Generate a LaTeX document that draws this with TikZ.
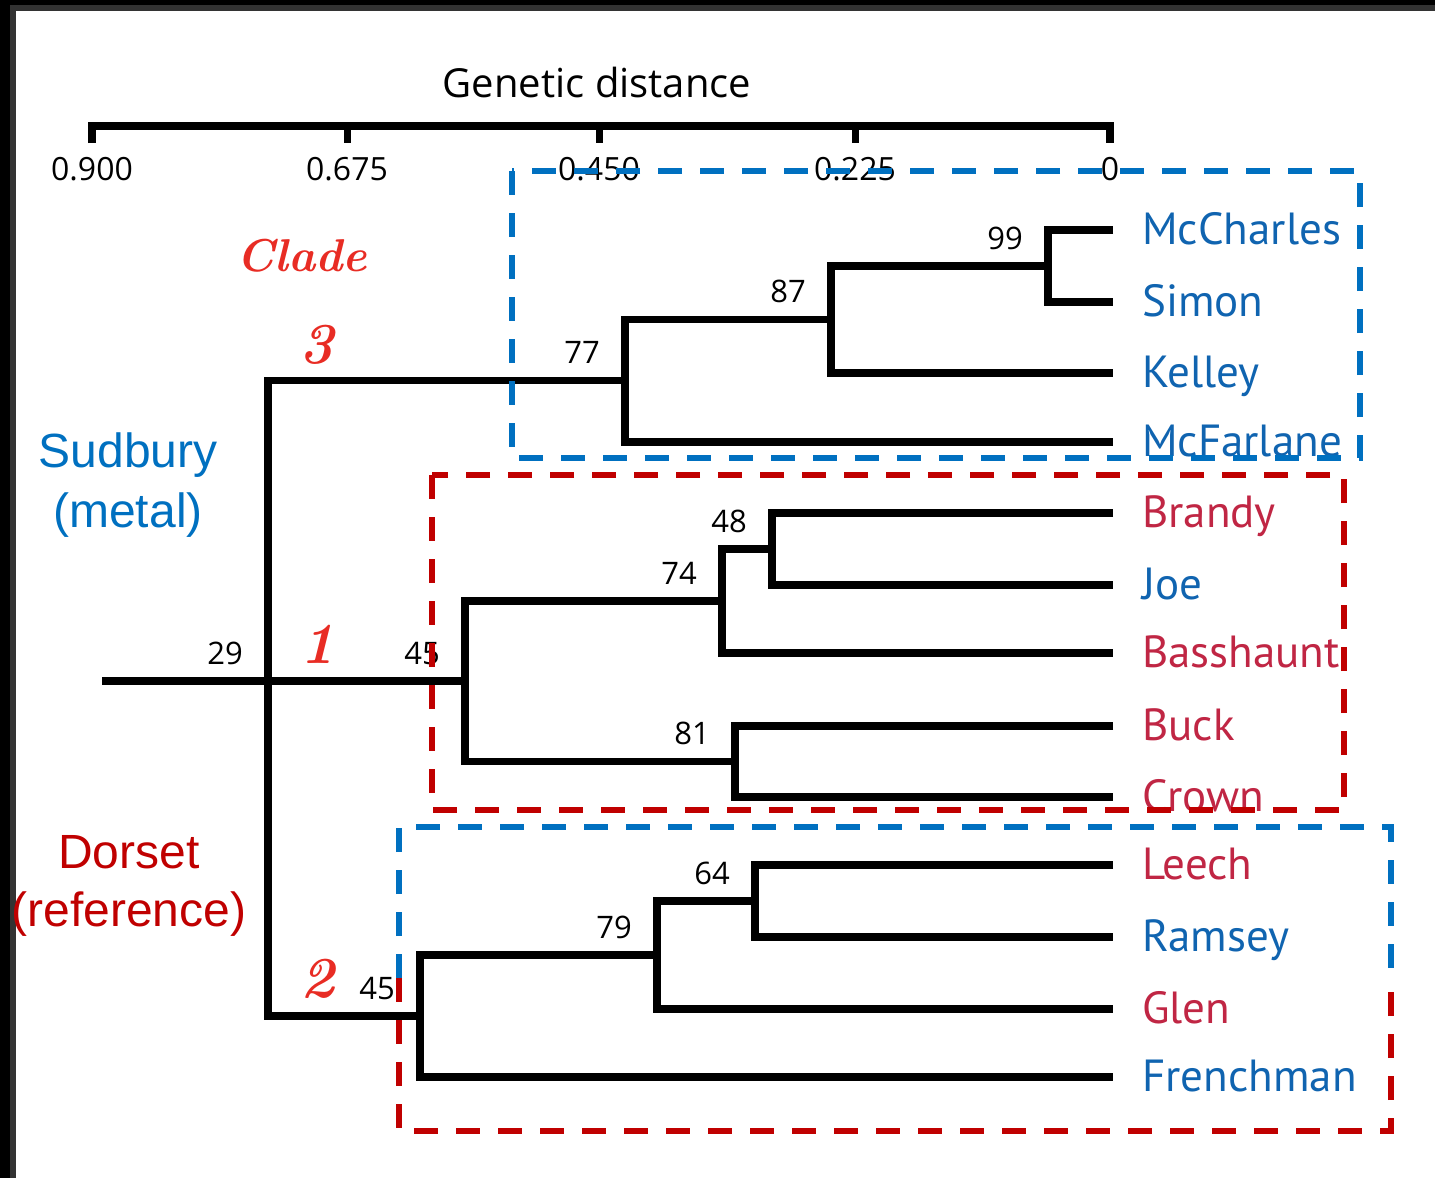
\documentclass[tikz,border=0pt]{standalone}
\usepackage{fontspec}
\newfontfamily\numfont{Open Sans}
\newfontfamily\taxonfont{PT Sans}
\newfontfamily\regionfont{Liberation Sans}

\definecolor{taxblue}{RGB}{16,100,176}
\definecolor{taxred}{RGB}{192,38,68}
\definecolor{boxblue}{RGB}{0,112,192}
\definecolor{boxred}{RGB}{192,0,0}
\definecolor{cladered}{RGB}{232,44,36}
\definecolor{framegray}{RGB}{51,51,51}

\tikzset{
  branch/.style={line width=7.5pt, line join=miter},
  boot/.style={anchor=base east, inner sep=0pt, font=\numfont\fontsize{31}{31}\selectfont},
  scalelbl/.style={anchor=base, inner sep=0pt, font=\numfont\fontsize{32}{32}\selectfont},
  taxon/.style={anchor=base west, inner sep=0pt, font=\taxonfont\fontsize{45}{45}\selectfont},
  region/.style={anchor=base, inner sep=0pt, font=\regionfont\fontsize{48}{48}\selectfont},
  clade/.style={anchor=base, inner sep=0pt, text=cladered, font=\bfseries\itshape\fontsize{46}{46}\selectfont},
  cladenum/.style={clade, font=\bfseries\itshape\fontsize{58}{58}\selectfont},
  groupbox/.style={line width=5.5pt, dash pattern=on 24pt off 18pt}
}

\begin{document}
\begin{tikzpicture}[x=1pt,y=-1pt]
    \useasboundingbox (0,0) rectangle (1435,1178);
    \fill[framegray] (0,0) rectangle (1435,11);
    \fill[framegray] (0,0) rectangle (16,1178);
    \fill[black] (0,0) rectangle (1435,5);
    \fill[black] (0,0) rectangle (10,1178);

    % scale bar
    \node[scalelbl, font=\numfont\fontsize{40}{40}\selectfont] (gdist) at (597,97) {Genetic distance};
    \draw[line width=8pt, line join=miter] (92,143) -- (92,126) -- (1110,126) -- (1110,143);
    \foreach \x/\d in {92/0.900, 347/0.675, 599/0.450, 855/0.225, 1110/0} {
      \draw[line width=7pt] (\x,126) -- (\x,143);
      \node[scalelbl] (tick\x) at (\x,180) {\d};
    }

    % leaves
    \foreach \t/\y/\c in {McCharles/230/taxblue, Simon/302/taxblue, Kelley/373/taxblue,
        McFarlane/442/taxblue, Brandy/513/taxred, Joe/585/taxblue, Basshaunt/653/taxred,
        Buck/726/taxred, Crown/797/taxred, Leech/865/taxred, Ramsey/937/taxblue,
        Glen/1009/taxred, Frenchman/1077/taxblue} {
      \coordinate (\t) at (1113,\y);
      \node[taxon, text=\c] (l\t) at (1142,\y+14) {\t};
    }

    % internal nodes
    \coordinate (n99) at (1048,266);
    \coordinate (n87) at (831,319.5);
    \coordinate (n77) at (625,380.5);
    \coordinate (n48) at (772,549);
    \coordinate (n74) at (722,601);
    \coordinate (n81) at (735,761.5);
    \coordinate (n45a) at (465,681);
    \coordinate (n64) at (755,901);
    \coordinate (n79) at (657,955);
    \coordinate (n45b) at (420,1016);
    \coordinate (root) at (268,681);
    \coordinate (stem) at (102,681);

    \draw[branch] (McCharles) -| (n99) |- (Simon);
    \draw[branch] (n99) -| (n87) |- (Kelley);
    \draw[branch] (n87) -| (n77) |- (McFarlane);
    \draw[branch] (Brandy) -| (n48) |- (Joe);
    \draw[branch] (n48) -| (n74) |- (Basshaunt);
    \draw[branch] (Buck) -| (n81) |- (Crown);
    \draw[branch] (n74) -| (n45a) |- (n81);
    \draw[branch] (Leech) -| (n64) |- (Ramsey);
    \draw[branch] (n64) -| (n79) |- (Glen);
    \draw[branch] (n79) -| (n45b) |- (Frenchman);
    \draw[branch] (n77) -| (root) |- (n45b);
    \draw[branch] (stem) -- (n45a);

    % bootstrap values
    \foreach \n/\v in {n99/99, n87/87, n77/77, n48/48, n74/74, n81/81,
        n45a/45, n64/64, n79/79, n45b/45, root/29} {
      \node[boot] (b\n) at ([shift={(-25,-17)}]\n) {\v};
    }

    % regions and clades
    \node[region, text=boxblue] (sudbury) at (128,467) {Sudbury};
    \node[region, text=boxblue] (metal) at (128,527) {(metal)};
    \node[region, text=boxred] (dorset) at (129,868) {Dorset};
    \node[region, text=boxred] (reference) at (129,926) {(reference)};
    \node[clade] (clade) at (302,271) {Clade};
    \node[cladenum] (c3) at (317,363) {3};
    \node[cladenum] (c1) at (318,663) {1};
    \node[cladenum] (c2) at (318,997) {2};

    % group boxes
    \draw[groupbox, boxblue] (512,171) rectangle (1360,458);
    \draw[groupbox, boxred] (432,475) rectangle (1344,810);
    \draw[groupbox, boxblue] (399,978) -- (399,827) -- (1391,827) -- (1391,978);
    \draw[groupbox, boxred] (399,978) -- (399,1131) -- (1391,1131) -- (1391,978);
\end{tikzpicture}
\end{document}
